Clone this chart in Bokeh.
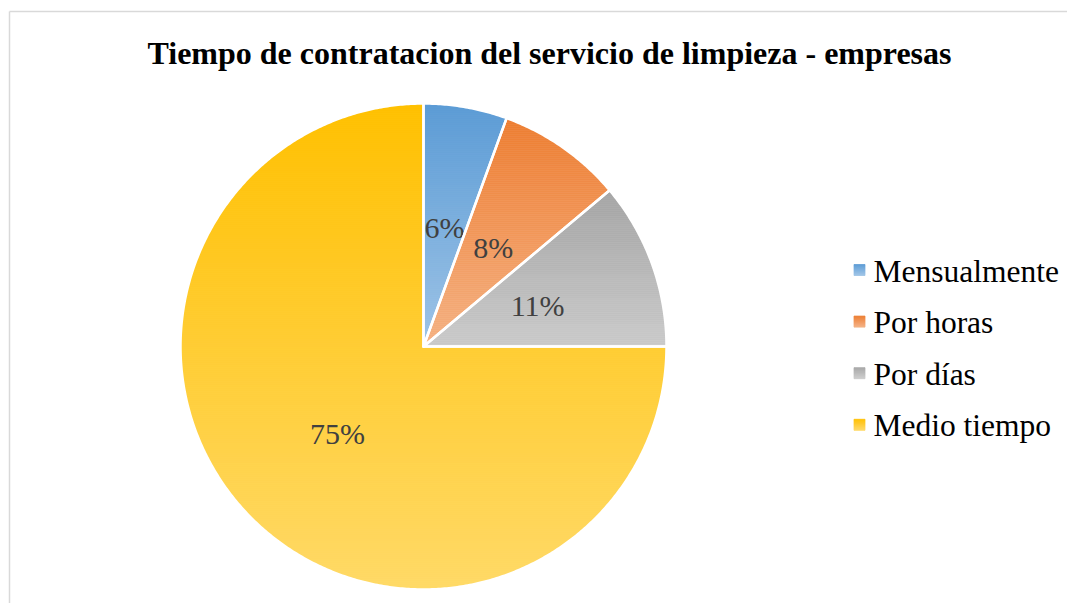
import math
from bokeh.plotting import figure
from bokeh.models import Range1d
from bokeh.core.properties import value
from bokeh.embed import file_html
from bokeh.resources import INLINE

# ---- data ----
title_text = "Tiempo de contratacion del servicio de limpieza - empresas"
categories = ["Mensualmente", "Por horas", "Por días", "Medio tiempo"]
counts = [2, 3, 4, 27]
top_colors = ["#5B9BD5", "#ED7D31", "#A5A5A5", "#FFC000"]
bottom_colors = ["#9DC3E6", "#F4B183", "#CBCBCB", "#FFD966"]

# ---- layout (pixel-like data coordinates, y grows downward) ----
W, H = 1067, 603
CX, CY, R = 423.0, 346.0, 243.0
FONT = "Liberation Serif"

p = figure(width=W, height=H, output_backend="svg", toolbar_location=None,
           x_range=Range1d(0, W), y_range=Range1d(H, 0),
           min_border=0, outline_line_color=None)
p.axis.visible = False
p.grid.visible = False
p.background_fill_color = "white"
p.border_fill_color = "white"


def hex2rgb(h):
    h = h.lstrip("#")
    return tuple(int(h[i:i + 2], 16) for i in (0, 2, 4))


def mix(c0, c1, t):
    a, b = hex2rgb(c0), hex2rgb(c1)
    return "#%02x%02x%02x" % tuple(int(round(a[i] + (b[i] - a[i]) * t)) for i in range(3))


def clip_h(poly, yline, keep_below):
    out = []
    n = len(poly)
    if n == 0:
        return out
    def inside(pt):
        return pt[1] >= yline if keep_below else pt[1] <= yline
    for i in range(n):
        cur = poly[i]
        prev = poly[i - 1]
        ci, pi = inside(cur), inside(prev)
        if ci:
            if not pi:
                t = (yline - prev[1]) / (cur[1] - prev[1])
                out.append((prev[0] + t * (cur[0] - prev[0]), yline))
            out.append(cur)
        elif pi:
            t = (yline - prev[1]) / (cur[1] - prev[1])
            out.append((prev[0] + t * (cur[0] - prev[0]), yline))
    return out


def gradient_fill(poly, c_top, c_bot, step=2.0):
    ys = [q[1] for q in poly]
    y0, y1 = min(ys), max(ys)
    xs_list, ys_list, cols = [], [], []
    y = y0
    while y < y1:
        yb = min(y + step, y1)
        band = clip_h(poly, y, True)
        band = clip_h(band, yb, False)
        if len(band) >= 3:
            t = ((y + yb) / 2 - y0) / (y1 - y0) if y1 > y0 else 0
            xs_list.append([q[0] for q in band])
            ys_list.append([q[1] for q in band])
            cols.append(mix(c_top, c_bot, t))
        y = yb
    p.patches(xs_list, ys_list, fill_color=cols, line_color=cols, line_width=0.8)


total = sum(counts)
start = 0.0
outlines_x, outlines_y = [], []
for cat, c, ct, cb in zip(categories, counts, top_colors, bottom_colors):
    frac = c / total
    a0 = start * 2 * math.pi
    a1 = (start + frac) * 2 * math.pi
    nseg = max(8, int(math.degrees(a1 - a0) / 0.5))
    poly = [(CX, CY)]
    for k in range(nseg + 1):
        a = a0 + (a1 - a0) * k / nseg
        poly.append((CX + R * math.sin(a), CY - R * math.cos(a)))
    gradient_fill(poly, ct, cb)
    outlines_x.append([q[0] for q in poly])
    outlines_y.append([q[1] for q in poly])
    am = (a0 + a1) / 2
    lx = CX + 0.5 * R * math.sin(am)
    ly = CY - 0.5 * R * math.cos(am)
    p.text(x=[lx], y=[ly + 1], text=[f"{round(100 * frac)}%"], text_font=value(FONT),
           text_font_size="30px", text_color="#404040", text_align="center",
           text_baseline="middle")
    start += frac

p.patches(outlines_x, outlines_y, fill_alpha=0, line_color="white", line_width=2.5,
          line_join="round")

# legend
LX, LY0, LDY, SQ = 859.0, 269.5, 51.6, 11.0
for i, (cat, ct, cb) in enumerate(zip(categories, top_colors, bottom_colors)):
    yc = LY0 + i * LDY
    sq = [(LX - SQ / 2, yc - SQ / 2), (LX + SQ / 2, yc - SQ / 2),
          (LX + SQ / 2, yc + SQ / 2), (LX - SQ / 2, yc + SQ / 2)]
    gradient_fill(sq, ct, cb, step=1.0)
    p.text(x=[873], y=[yc + 1], text=[cat], text_font=value(FONT),
           text_font_size="31.5px", text_color="#000000", text_align="left",
           text_baseline="middle")

# title
p.text(x=[549], y=[52], text=[title_text], text_font=value(FONT),
       text_font_size="32px", text_font_style="bold", text_color="#000000",
       text_align="center", text_baseline="middle")

# chart-area border (left and top edges visible in the window)
p.segment(x0=[9, 9], y0=[11, 11], x1=[9, W], y1=[H, 11],
          line_color="#D9D9D9", line_width=1.5)

open("out.html", "w").write(file_html(p, INLINE))
